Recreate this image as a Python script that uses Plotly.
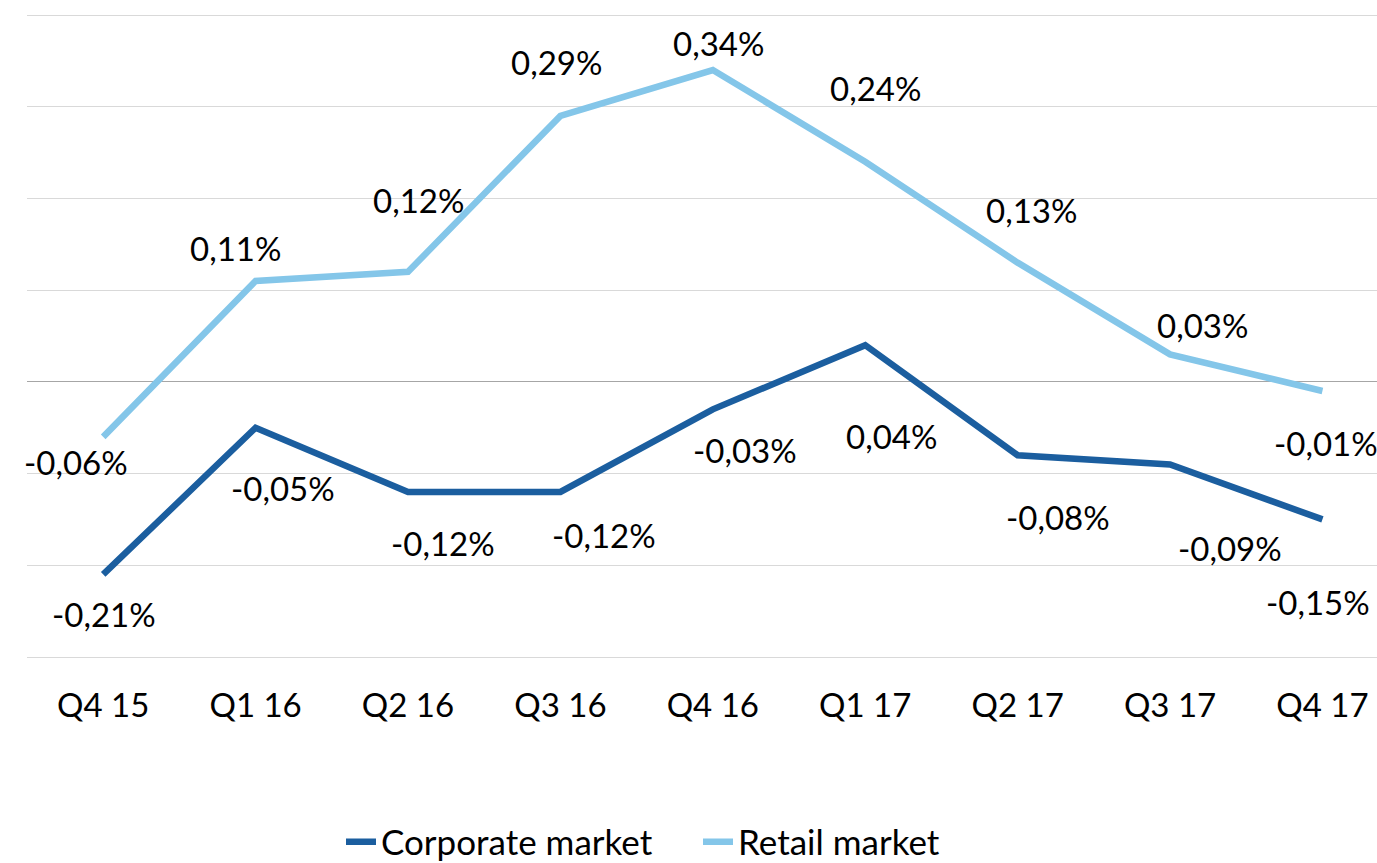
import plotly.graph_objects as go

categories = ["Q4 15", "Q1 16", "Q2 16", "Q3 16", "Q4 16", "Q1 17", "Q2 17", "Q3 17", "Q4 17"]
corporate = [-0.21, -0.05, -0.12, -0.12, -0.03, 0.04, -0.08, -0.09, -0.15]
retail = [-0.06, 0.11, 0.12, 0.29, 0.34, 0.24, 0.13, 0.03, -0.01]

# label placement offsets (pixels)
retail_dx = [-27, -20, 10, -4, 6, 10, 14, 32, 4]
retail_dy = [-25, 33, 72, 54, 27, 74, 53, 29, -52]
corp_dx = [1, 27, 35, 44, 32, 26, 40, 60, -4]
corp_dy = [-40, -60, -51, -43, -41, -91, -62, -84, -83]

DARK = "#1B5E9F"
LIGHT = "#84C6E9"
FONT = "Lato"
FS = 33

def fmt(v):
    return f"{v:.2f}".replace(".", ",") + "%"

x_idx = list(range(len(categories)))

fig = go.Figure()
fig.add_trace(go.Scatter(x=x_idx, y=corporate, mode="lines", name="Corporate market",
                         line=dict(color=DARK, width=6.5), cliponaxis=False))
fig.add_trace(go.Scatter(x=x_idx, y=retail, mode="lines", name="Retail market",
                         line=dict(color=LIGHT, width=6.5), cliponaxis=False))

annotations = []
for i, v in enumerate(retail):
    annotations.append(dict(x=i, y=v, xref="x", yref="y", text=fmt(v), showarrow=False,
                            xshift=retail_dx[i], yshift=retail_dy[i],
                            font=dict(family=FONT, size=FS, color="#000000")))
for i, v in enumerate(corporate):
    annotations.append(dict(x=i, y=v, xref="x", yref="y", text=fmt(v), showarrow=False,
                            xshift=corp_dx[i], yshift=corp_dy[i],
                            font=dict(family=FONT, size=FS, color="#000000")))

fig.update_layout(
    width=1377, height=863,
    margin=dict(l=27, r=0, t=12, b=203, autoexpand=False),
    paper_bgcolor="white", plot_bgcolor="white",
    font=dict(family=FONT, size=FS, color="#000000"),
    showlegend=True,
    legend=dict(orientation="h", xref="container", yref="container",
                x=341 / 1377, xanchor="left", y=(863 - 842) / 863, yanchor="middle",
                entrywidth=312, entrywidthmode="pixels",
                font=dict(family=FONT, size=35, color="#000000"), bgcolor="rgba(0,0,0,0)"),
    annotations=annotations,
)
fig.update_xaxes(range=[-0.5, 8.358], tickmode="array", tickvals=x_idx, ticktext=categories,
                 showgrid=False, zeroline=False, showline=False, ticks="", automargin=False,
                 ticklabelstandoff=23, tickfont=dict(family=FONT, size=FS, color="#000000"))
fig.update_yaxes(range=[-0.30327, 0.40327], dtick=0.1, tick0=0, showticklabels=False,
                 showgrid=True, gridcolor="#D9D9D9", gridwidth=1.3, automargin=False,
                 zeroline=True, zerolinecolor="#A6A6A6", zerolinewidth=1.3, ticks="")

fig.write_html("out.html", config={"displayModeBar": False},
               post_script="document.body.style.margin='0';")
